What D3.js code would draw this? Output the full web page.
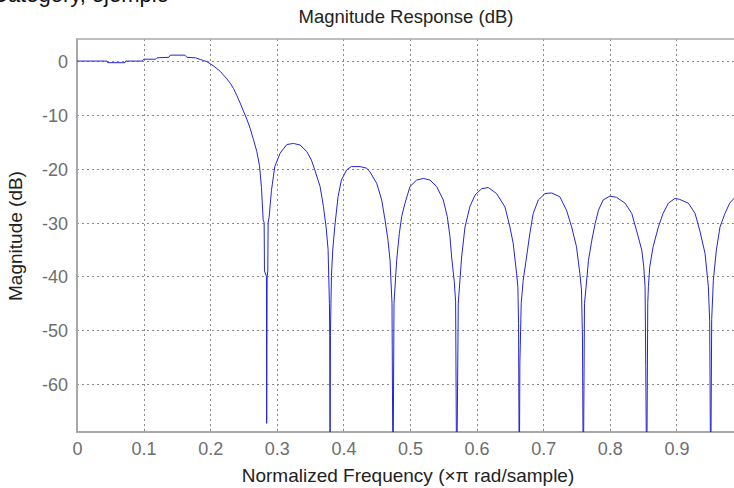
<!DOCTYPE html>
<html>
<head>
<meta charset="utf-8">
<script src="https://cdn.jsdelivr.net/npm/d3@7"></script>
<style>
  html, body { margin: 0; padding: 0; background: #fff; }
  svg { display: block; font-family: "Liberation Sans", Arial, sans-serif; }
</style>
</head>
<body>
<svg id="chart" width="734" height="488"></svg>
<script>
// Normalized frequency (x pi rad/sample)
const freq = [0, 0.045, 0.046, 0.072, 0.073, 0.098, 0.1, 0.118, 0.12, 0.138, 0.14, 0.162, 0.165, 0.178, 0.185, 0.19, 0.195, 0.2, 0.205, 0.21, 0.215, 0.22, 0.225, 0.23, 0.235, 0.24, 0.245, 0.25, 0.255, 0.26, 0.265, 0.27, 0.274, 0.277, 0.2795, 0.281, 0.2815, 0.2845, 0.2848, 0.2855, 0.2865, 0.287, 0.2885, 0.292, 0.297, 0.305, 0.315, 0.325, 0.335, 0.345, 0.352, 0.357, 0.365, 0.37, 0.374, 0.377, 0.379, 0.3795, 0.38, 0.3805, 0.382, 0.384, 0.387, 0.392, 0.397, 0.405, 0.412, 0.425, 0.435, 0.44, 0.45, 0.4575, 0.4625, 0.467, 0.47, 0.473, 0.4745, 0.476, 0.48, 0.484, 0.4875, 0.4925, 0.5, 0.51, 0.52, 0.53, 0.54, 0.55, 0.556, 0.56, 0.5625, 0.5665, 0.5685, 0.5701, 0.5725, 0.5775, 0.5826, 0.59, 0.5976, 0.6076, 0.6176, 0.63, 0.6426, 0.65, 0.655, 0.66, 0.662, 0.663, 0.6641, 0.665, 0.667, 0.67, 0.675, 0.68, 0.685, 0.6927, 0.7027, 0.7127, 0.725, 0.735, 0.7427, 0.75, 0.755, 0.7575, 0.759, 0.7602, 0.762, 0.764, 0.768, 0.773, 0.778, 0.783, 0.79, 0.8, 0.81, 0.823, 0.833, 0.84, 0.848, 0.851, 0.853, 0.854, 0.8554, 0.857, 0.858, 0.86, 0.865, 0.873, 0.88, 0.888, 0.898, 0.905, 0.918, 0.928, 0.935, 0.943, 0.9455, 0.948, 0.95, 0.9515, 0.953, 0.9555, 0.96, 0.9655, 0.973, 0.98, 0.9865];
// Magnitude (dB)
const magnitude = [0, 0, -0.3, -0.3, 0, 0, 0.35, 0.35, 0.6, 0.7, 1.1, 1.1, 0.7, 0.6, 0.3, 0.1, -0.1, -0.5, -0.9, -1.4, -1.9, -2.6, -3.3, -4.1, -5.1, -6.4, -7.8, -9.3, -10.8, -12.5, -14.6, -16.8, -19.4, -23.5, -29.5, -30, -39, -40, -67.3, -40, -39, -30, -29, -24, -19.6, -17.1, -15.5, -15.3, -15.6, -16.8, -18.4, -20.2, -23.3, -27, -30.8, -35, -45, -51, -80, -51, -40, -35.1, -30.8, -25.2, -22.1, -20.2, -19.6, -19.6, -19.9, -20.6, -22.7, -25.8, -29.5, -33.3, -37, -45, -80, -45, -37, -32, -28.9, -26.4, -23.3, -22.1, -21.8, -22.1, -23.3, -25.8, -28.9, -32.6, -36.4, -41, -44.7, -80, -45, -36.4, -30.8, -27, -24.9, -23.7, -23.5, -24.6, -27.1, -30.8, -33.9, -39.4, -42, -48.7, -80, -56, -45, -40.7, -36.4, -32, -28.3, -25.8, -24.6, -24.5, -25.2, -27.7, -30.8, -34.5, -39.4, -42.5, -51.8, -80, -45, -42.5, -37, -33.3, -30.2, -27.7, -25.8, -25.1, -25.3, -26.4, -28.3, -31.4, -35.1, -38.2, -41.9, -56.5, -80, -45, -41.9, -38.2, -34.5, -30.8, -28.3, -26.4, -25.5, -25.7, -26.4, -28.3, -31.4, -35.7, -38.8, -41.9, -48.4, -80, -48, -40.7, -35.1, -30.8, -28.3, -26.4, -25.5];

const xTicks = [0, 0.1, 0.2, 0.3, 0.4, 0.5, 0.6, 0.7, 0.8, 0.9];
const yTicks = [0, -10, -20, -30, -40, -50, -60];
const xDomain = [0, 0.9865];
const yDomain = [-68.9, 4.1];

const titleText = "Magnitude Response (dB)";
const xLabelText = "Normalized Frequency (\u00d7\u03c0 rad/sample)";
const yLabelText = "Magnitude (dB)";
const topText = "Category, ejemplo";

const svg = d3.select("#chart");
const L = 77, R = 734, T = 39, B = 432;

const x = d3.scaleLinear().domain(xDomain).range([L, R]);
const y = d3.scaleLinear().domain(yDomain).range([B, T]);

// cut-off text at top-left (only its lower part is inside the picture, as in the reference)
svg.append("text").attr("x", -8).attr("y", 2)
  .attr("font-size", 22).attr("fill", "#111").text(topText);

svg.append("defs").append("clipPath").attr("id", "plotclip")
  .append("rect").attr("x", L).attr("y", T).attr("width", R - L).attr("height", B - T);

// grid
const grid = svg.append("g").attr("stroke", "#8a8a8a").attr("stroke-width", 1)
  .attr("stroke-dasharray", "2,3").attr("shape-rendering", "crispEdges");
grid.selectAll(".gx").data(xTicks.filter(d => d > 0)).enter().append("line")
  .attr("x1", d => Math.round(x(d)) + 0.5).attr("x2", d => Math.round(x(d)) + 0.5)
  .attr("y1", T).attr("y2", B);
grid.selectAll(".gy").data(yTicks).enter().append("line")
  .attr("y1", d => Math.round(y(d)) + 0.5).attr("y2", d => Math.round(y(d)) + 0.5)
  .attr("x1", L).attr("x2", R);

// axis frame
svg.append("line").attr("x1", L).attr("x2", L).attr("y1", T).attr("y2", B + 1)
  .attr("stroke", "#a8a8a8").attr("stroke-width", 2);
svg.append("line").attr("x1", L - 1).attr("x2", R).attr("y1", B).attr("y2", B)
  .attr("stroke", "#a8a8a8").attr("stroke-width", 2);
svg.append("line").attr("x1", L - 1).attr("x2", R).attr("y1", T).attr("y2", T)
  .attr("stroke", "#a8a8a8").attr("stroke-width", 1.5);

// axes tick labels via d3 axes
const xAxis = d3.axisBottom(x).tickValues(xTicks).tickSize(0).tickPadding(0)
  .tickFormat(d => d === 0 ? "0" : d.toFixed(1));
const gx = svg.append("g").attr("transform", `translate(0,${B})`).call(xAxis);
gx.select(".domain").remove();
gx.selectAll("text").attr("font-size", 18).attr("fill", "#6e6e6e")
  .attr("font-family", "Liberation Sans, Arial, sans-serif").attr("dy", null).attr("y", 23);

const yAxis = d3.axisLeft(y).tickValues(yTicks).tickSize(0).tickPadding(9)
  .tickFormat(d => String(d));
const gy = svg.append("g").attr("transform", `translate(${L},0)`).call(yAxis);
gy.select(".domain").remove();
gy.selectAll("text").attr("font-size", 18).attr("fill", "#6e6e6e")
  .attr("font-family", "Liberation Sans, Arial, sans-serif").attr("dy", "0.36em");

// response line
const pts = freq.map((f, i) => [f, magnitude[i]]);
svg.append("path").datum(pts)
  .attr("clip-path", "url(#plotclip)")
  .attr("fill", "none").attr("stroke", "#2424d8").attr("stroke-width", 1)
  .attr("d", d3.line().x(d => x(d[0])).y(d => y(d[1])));

// title & labels
svg.append("text").attr("x", 406).attr("y", 23).attr("text-anchor", "middle")
  .attr("font-size", 18.5).attr("fill", "#222").text(titleText);
svg.append("text").attr("x", 408).attr("y", 482).attr("text-anchor", "middle")
  .attr("font-size", 19).attr("fill", "#222").text(xLabelText);
svg.append("text").attr("transform", "translate(22,236) rotate(-90)")
  .attr("text-anchor", "middle").attr("font-size", 19).attr("fill", "#222").text(yLabelText);
</script>
</body>
</html>
